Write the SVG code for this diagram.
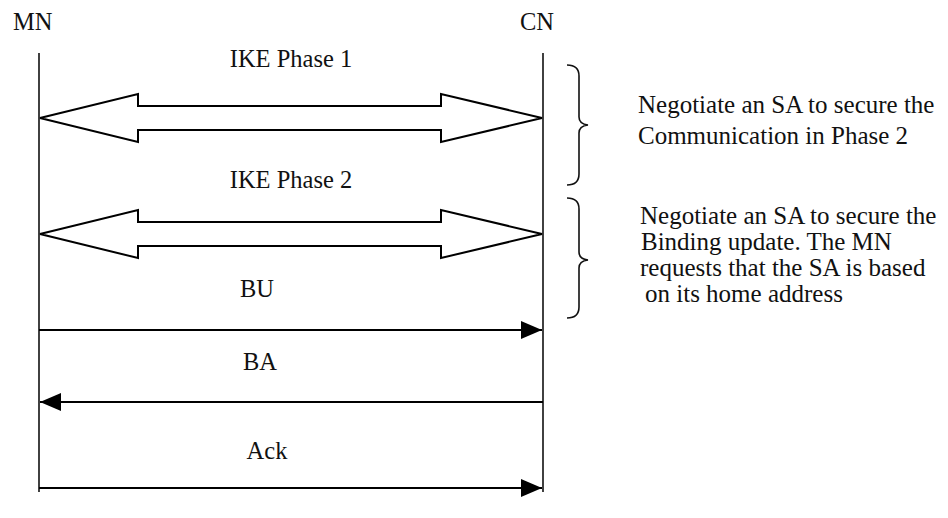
<svg xmlns="http://www.w3.org/2000/svg" width="948" height="518" viewBox="0 0 948 518">
  <style>
    .lbl { font-family: "Liberation Serif", "Times New Roman", serif; font-size: 24.5px; fill: #111; }
    .note { font-size: 25px; }
    .mid { text-anchor: middle; }
    .life { stroke: #111; stroke-width: 1.6; fill: none; }
    .dbl { fill: #fff; stroke: #000; stroke-width: 2; stroke-linejoin: miter; }
    .msg { stroke: #000; stroke-width: 2.2; fill: none; }
    .brace { stroke: #111; stroke-width: 1.6; fill: none; }
  </style>
  <defs>
    <marker id="head" viewBox="0 0 21 18" refX="21" refY="9" markerWidth="21" markerHeight="18" markerUnits="userSpaceOnUse" orient="auto">
      <path d="M0,0 L21,9 L0,18 Z" fill="#000"/>
    </marker>
  </defs>

  <rect width="948" height="518" fill="#fff"/>

  <!-- participants -->
  <g id="mn">
    <text class="lbl" x="13" y="30">MN</text>
    <line class="life" x1="39" y1="53" x2="39" y2="492"/>
  </g>
  <g id="cn">
    <text class="lbl" x="520" y="30">CN</text>
    <line class="life" x1="543" y1="53" x2="543" y2="492"/>
  </g>

  <!-- messages -->
  <g id="connectors">
    <g id="ike1">
      <polygon class="dbl" points="40,118 138,94 138,106 441,106 441,94 542,118 441,142 441,130 138,130 138,142"/>
      <text class="lbl mid" x="291" y="67">IKE Phase 1</text>
    </g>
    <g id="ike2">
      <polygon class="dbl" points="40,234 138,210 138,222 441,222 441,210 542,234 441,258 441,246 138,246 138,258"/>
      <text class="lbl mid" x="291" y="188">IKE Phase 2</text>
    </g>
    <g id="bu">
      <line class="msg" x1="39" y1="330" x2="542" y2="330" marker-end="url(#head)"/>
      <text class="lbl mid" x="257" y="297">BU</text>
    </g>
    <g id="ba">
      <line class="msg" x1="543" y1="402" x2="40" y2="402" marker-end="url(#head)"/>
      <text class="lbl mid" x="260" y="370">BA</text>
    </g>
    <g id="ack">
      <line class="msg" x1="39" y1="488" x2="542" y2="488" marker-end="url(#head)"/>
      <text class="lbl mid" x="267" y="459">Ack</text>
    </g>
  </g>

  <!-- annotations -->
  <g id="note1">
    <path class="brace" d="M567,65 Q579,65 579,76 L579,117 Q579,124 588,125 Q579,126 579,133 L579,174 Q579,185 567,185"/>
    <text class="lbl note" x="638" y="113">Negotiate an SA to secure the</text>
    <text class="lbl note" x="638" y="144">Communication in Phase 2</text>
  </g>
  <g id="note2">
    <path class="brace" d="M567,198 Q579,198 579,209 L579,252 Q579,259 588,260 Q579,261 579,268 L579,307 Q579,318 567,318"/>
    <text class="lbl note" x="640" y="224">Negotiate an SA to secure the</text>
    <text class="lbl note" x="641" y="250">Binding update. The MN</text>
    <text class="lbl note" x="640" y="276">requests that the SA is based</text>
    <text class="lbl note" x="645" y="302">on its home address</text>
  </g>
</svg>
